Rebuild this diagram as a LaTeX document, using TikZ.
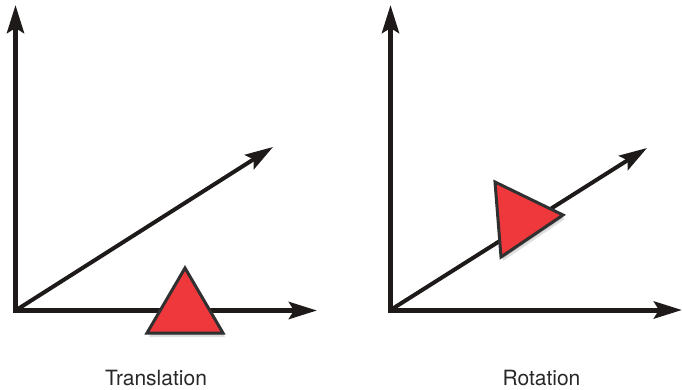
\documentclass[tikz,border=0pt]{standalone}
\usepackage{fontspec}
\setmainfont{TeX Gyre Heros}
\usetikzlibrary{arrows.meta}
\definecolor{axisblack}{RGB}{30,26,26}
\definecolor{trired}{RGB}{238,56,60}
\definecolor{edgegray}{RGB}{48,48,48}
\definecolor{textgray}{RGB}{40,40,40}
\tikzset{
  axis/.style={line width=5pt, draw=axisblack,
               {Stealth[length=28pt, width=17pt, inset=5pt]}-{Stealth[length=28pt, width=17pt, inset=5pt]}},
  ray/.style={line width=4pt, draw=axisblack, -{Stealth[length=28pt, width=17pt, inset=5pt]}},
  tri/.style={fill=trired, draw=edgegray, line width=3pt, line join=miter,
              preaction={fill=black, opacity=0.12, transform canvas={xshift=2pt, yshift=-4pt}},
              preaction={fill=black, opacity=0.15, transform canvas={xshift=1pt, yshift=-2pt}}},
  caption/.style={font=\fontsize{21}{25}\selectfont, text=textgray, anchor=base,
                  inner sep=0pt, text depth=0pt},
}

\begin{document}
\begin{tikzpicture}[x=1pt, y=-1pt]
\useasboundingbox (0,0) rectangle (682,389);
% Left: translation
\coordinate (o1) at (15.5,310.5);
\coordinate (ytip1) at (15.5,5);
\coordinate (xtip1) at (317,310.5);
\coordinate (dtip1) at (273,147);
\draw[ray] (o1) -- (dtip1);
\draw[axis] (ytip1) -- (o1) -- (xtip1);
\coordinate (ta) at (185,268);
\coordinate (tb) at (223,333);
\coordinate (tc) at (147,333);
\draw[tri] (ta) -- (tb) -- (tc) -- cycle;
\node[caption] (trans) at (156,385) {Translation};

% Right: rotation
\coordinate (o2) at (390.5,310);
\coordinate (ytip2) at (390.5,5);
\coordinate (xtip2) at (682,310);
\coordinate (dtip2) at (647,148);
\draw[ray] (o2) -- (dtip2);
\draw[axis] (ytip2) -- (o2) -- (xtip2);
\coordinate (ra) at (495,182);
\coordinate (rb) at (563,215);
\coordinate (rc) at (501,257);
\draw[tri] (ra) -- (rb) -- (rc) -- cycle;
\node[caption] (rot) at (541.5,385) {Rotation};
\end{tikzpicture}
\end{document}
